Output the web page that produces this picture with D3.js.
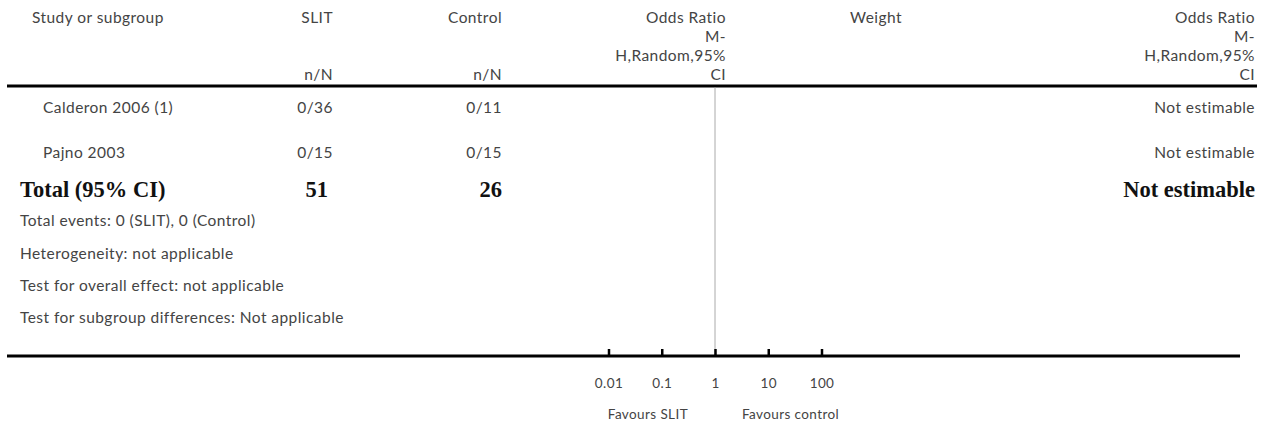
<!DOCTYPE html>
<html>
<head>
<meta charset="utf-8">
<script src="https://cdn.jsdelivr.net/npm/d3@7/dist/d3.min.js"></script>
<style>
  html, body { margin: 0; padding: 0; background: #fff; }
  svg { display: block; }
  .reg { font-family: Lato, "Open Sans", sans-serif; font-size: 15.5px; letter-spacing: 0.45px; fill: #444; }
  .small { font-family: Lato, "Open Sans", sans-serif; font-size: 13.5px; letter-spacing: 0.4px; fill: #444; }
  .bold { font-family: "Liberation Serif", "DejaVu Serif", serif; font-weight: bold; font-size: 22.5px; fill: #111; }
</style>
</head>
<body>
<svg id="chart" width="1268" height="425"></svg>
<script>
// Study rows
const studies = ["Calderon 2006 (1)", "Pajno 2003"];
const slitEvents = [0, 0];
const slitTotals = [36, 15];
const ctrlEvents = [0, 0];
const ctrlTotals = [11, 15];
const studyEstimates = ["Not estimable", "Not estimable"];

// Summary
const totalLabel = "Total (95% CI)";
const totalEstimate = "Not estimable";
const footerLines = [
  "Total events: 0 (SLIT), 0 (Control)",
  "Heterogeneity: not applicable",
  "Test for overall effect: not applicable",
  "Test for subgroup differences: Not applicable"
];

// Odds ratio axis
const orTicks = [0.01, 0.1, 1, 10, 100];
const orTickLabels = ["0.01", "0.1", "1", "10", "100"];
const favourLabels = ["Favours SLIT", "Favours control"];

// Column headers
const orHeader = ["Odds Ratio", "M-", "H,Random,95%", "CI"];

const svg = d3.select("#chart");

// Column positions
const colStudy = 32, colStudyIndent = 43, colTotal = 20;
const colSlit = 333, colCtrl = 502;
const colOrHead = 726, colWeight = 876, colOrRight = 1255;

// Row positions (text centres)
const yHead = 18, headStep = 19;
const yRule = 86;
const yStudy = d3.scaleLinear().domain([0, 1]).range([108, 153]);
const yTotal = 189;
const yFoot = d3.scaleLinear().domain([0, 3]).range([221, 318]);
const yAxis = 356;

const x = d3.scaleLog().domain([0.01, 100]).range([608.5, 821.5]);

function txt(cls, xPos, yPos, s, anchor) {
  return svg.append("text").attr("class", cls)
    .attr("x", xPos).attr("y", yPos).attr("dy", "0.35em")
    .attr("text-anchor", anchor || "start").text(s);
}

// Headers
txt("reg", colStudy, yHead, "Study or subgroup");
txt("reg", colSlit, yHead, "SLIT", "end");
txt("reg", colCtrl, yHead, "Control", "end");
orHeader.forEach((s, i) => {
  txt("reg", colOrHead, yHead + i * headStep, s, "end");
  txt("reg", colOrRight, yHead + i * headStep, s, "end");
});
txt("reg", colWeight, yHead, "Weight", "middle");
txt("reg", colSlit, yHead + 3 * headStep, "n/N", "end");
txt("reg", colCtrl, yHead + 3 * headStep, "n/N", "end");

// Header rule
svg.append("line").attr("x1", 7).attr("x2", 1257).attr("y1", yRule).attr("y2", yRule)
  .attr("stroke", "#000").attr("stroke-width", 3);

// Line of no effect
svg.append("line").attr("x1", x(1)).attr("x2", x(1)).attr("y1", yRule + 1.5).attr("y2", yAxis)
  .attr("stroke", "#aaa").attr("stroke-width", 1);

// Study rows
studies.forEach((s, i) => {
  const y = yStudy(i);
  txt("reg", colStudyIndent, y, s);
  txt("reg", colSlit, y, slitEvents[i] + "/" + slitTotals[i], "end");
  txt("reg", colCtrl, y, ctrlEvents[i] + "/" + ctrlTotals[i], "end");
  txt("reg", colOrRight, y, studyEstimates[i], "end");
});

// Total row
txt("bold", colTotal, yTotal, totalLabel);
txt("bold", colSlit - 5, yTotal, d3.sum(slitTotals), "end");
txt("bold", colCtrl, yTotal, d3.sum(ctrlTotals), "end");
txt("bold", colOrRight, yTotal, totalEstimate, "end");

// Footer text
footerLines.forEach((s, i) => txt("reg", colTotal, yFoot(i), s));

// Bottom rule and axis
svg.append("line").attr("x1", 7).attr("x2", 1240).attr("y1", yAxis).attr("y2", yAxis)
  .attr("stroke", "#000").attr("stroke-width", 3);

const axis = d3.axisBottom(x).tickValues(orTicks).tickSize(-7).tickFormat((d, i) => orTickLabels[i]);
const ag = svg.append("g").attr("transform", `translate(0,${yAxis})`).call(axis);
ag.select(".domain").remove();
ag.selectAll(".tick line").attr("stroke", "#000").attr("stroke-width", 2.5);
ag.selectAll(".tick text")
  .attr("class", "small").attr("y", 27).attr("dy", "0.35em");

txt("small", x(1) - 27, 414, favourLabels[0], "end");
txt("small", x(1) + 27, 414, favourLabels[1], "start");
</script>
</body>
</html>
